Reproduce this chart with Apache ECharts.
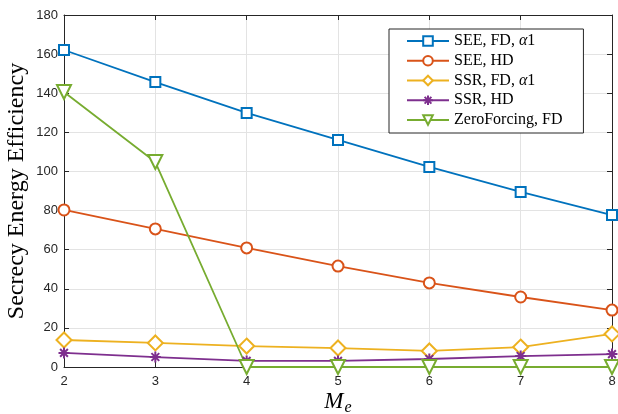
<!DOCTYPE html>
<html><head><meta charset="utf-8">
<script src="https://cdn.jsdelivr.net/npm/echarts@6/dist/echarts.min.js"></script>
<style>html,body{margin:0;padding:0;background:#fff}#c{width:618px;height:414px}</style>
</head><body><div id="c"></div>
<script>
const xValues = [2, 3, 4, 5, 6, 7, 8];
const seeFD = [162.1, 145.7, 129.9, 116.1, 102.3, 89.5, 77.7];
const seeHD = [80.3, 70.6, 60.9, 51.6, 43.0, 35.8, 29.1];
const ssrFD = [13.8, 12.3, 10.7, 9.7, 8.2, 10.2, 16.9];
const ssrHD = [7.2, 5.1, 3.1, 3.1, 4.1, 5.6, 6.6];
const zfFD = [140.6, 104.8, 0, 0, 0, 0, 0];
const seriesNames = ['SEE, FD, {i|α}1', 'SEE, HD', 'SSR, FD, {i|α}1', 'SSR, HD', 'ZeroForcing, FD'];
const colors = ['#0072BD', '#D95319', '#EDB120', '#7E2F8E', '#77AC30'];

const pair = arr => xValues.map((x, i) => [x, arr[i]]);
const asterisk = 'path://M0,-10 L0,10 M-10,0 L10,0 M-7.07,-7.07 L7.07,7.07 M-7.07,7.07 L7.07,-7.07';

const chart = echarts.init(document.getElementById('c'), null, {renderer: 'canvas'});
const axisCommon = {
  axisLine: {show: true, onZero: false, lineStyle: {color: '#262626', width: 1}},
  axisTick: {show: true, inside: true, length: 5, lineStyle: {color: '#262626'}},
};
function mk(name, data, color, symbol, size, extra) {
  return Object.assign({
    name: name, type: 'line', data: pair(data), symbol: symbol, symbolSize: size,
    showAllSymbol: true,
    lineStyle: {color: color, width: 1.8},
    itemStyle: {color: color, borderColor: color, borderWidth: 1.6},
    emphasis: {disabled: true}, animation: false
  }, extra || {});
}
chart.setOption({
  animation: false,
  backgroundColor: '#fff',
  grid: {left: 64, right: 6, top: 15, bottom: 47, containLabel: false, outerBoundsMode: 'none'},
  legend: {
    orient: 'vertical', left: 389, top: 29,
    itemWidth: 42, itemHeight: 12, itemGap: 3.75,
    padding: [4, 21, 5, 17],
    borderColor: '#262626', borderWidth: 1, backgroundColor: '#fff',
    textStyle: {fontFamily: 'Liberation Serif', fontSize: 16, color: '#000',
      rich: {i: {fontFamily: 'Liberation Serif', fontStyle: 'italic', fontSize: 16, color: '#000'}}},
    data: seriesNames
  },
  xAxis: [
    Object.assign({type: 'value', min: 2, max: 8, interval: 1, position: 'bottom',
      axisLabel: {color: '#262626', fontFamily: 'Liberation Sans', fontSize: 13, margin: 8},
      splitLine: {show: true, lineStyle: {color: '#e3e3e3', width: 1}},
      name: '{m|M}{s|e}', nameLocation: 'middle', nameGap: 23, nameMoveOverlap: false,
      nameTextStyle: {rich: {
        m: {fontFamily: 'Liberation Serif', fontStyle: 'italic', fontSize: 23, color: '#000', lineHeight: 26, padding: [0, 1, 3, 0], verticalAlign: 'bottom'},
        s: {fontFamily: 'Liberation Serif', fontStyle: 'italic', fontSize: 16, color: '#000', lineHeight: 16, padding: [18, 0, 0, 0], verticalAlign: 'bottom'}
      }}
    }, axisCommon),
    Object.assign({type: 'value', min: 2, max: 8, interval: 1, position: 'top',
      axisLabel: {show: false}, splitLine: {show: false}}, axisCommon)
  ],
  yAxis: [
    Object.assign({type: 'value', min: 0, max: 180, interval: 20, position: 'left',
      axisLabel: {color: '#262626', fontFamily: 'Liberation Sans', fontSize: 13, margin: 6},
      splitLine: {show: true, lineStyle: {color: '#e3e3e3', width: 1}},
      name: 'Secrecy Energy Efficiency', nameLocation: 'middle', nameGap: 35, nameMoveOverlap: false,
      nameTextStyle: {fontFamily: 'Liberation Serif', fontSize: 24, color: '#000'}
    }, axisCommon),
    Object.assign({type: 'value', min: 0, max: 180, interval: 20, position: 'right',
      axisLabel: {show: false}, splitLine: {show: false}}, axisCommon)
  ],
  series: [
    mk(seriesNames[0], seeFD, colors[0], 'emptyRect', 10),
    mk(seriesNames[1], seeHD, colors[1], 'emptyCircle', 11),
    mk(seriesNames[2], ssrFD, colors[2], 'emptyDiamond', 15),
    mk(seriesNames[3], ssrHD, colors[3], asterisk, 11, {itemStyle: {color: colors[3], borderColor: colors[3], borderWidth: 2}}),
    mk(seriesNames[4], zfFD, colors[4], 'emptyTriangle', 14, {symbolRotate: 180})
  ]
});
</script></body></html>
